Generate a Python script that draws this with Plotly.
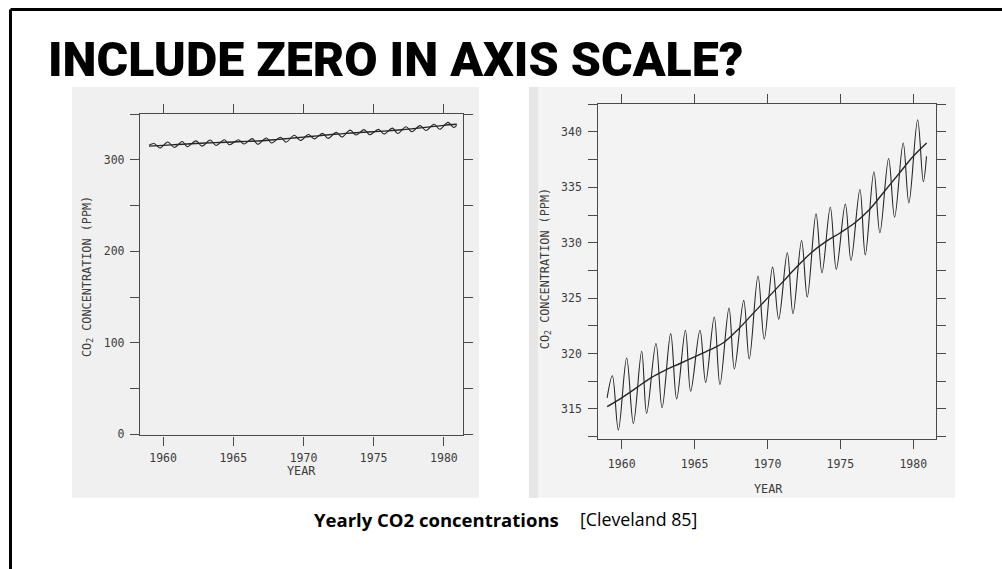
import plotly.graph_objects as go

# ---------------- data ----------------
# seasonal curve: start, then alternating peaks / troughs (decimal year, ppm)
season_year = [1959.00, 1959.36, 1959.77, 1960.34, 1960.80, 1961.37, 1961.71,
               1962.35, 1962.77, 1963.36, 1963.77, 1964.37, 1964.73, 1965.37,
               1965.76, 1966.35, 1966.74, 1967.36, 1967.73, 1968.37, 1968.75,
               1969.35, 1969.78, 1970.35, 1970.77, 1971.36, 1971.75, 1972.34,
               1972.73, 1973.33, 1973.74, 1974.31, 1974.72, 1975.34, 1975.73,
               1976.34, 1976.71, 1977.30, 1977.71, 1978.31, 1978.72, 1979.31,
               1979.70, 1980.30, 1980.69, 1980.91]
season_ppm = [316.0, 318.0, 313.1, 319.6, 313.7, 320.2, 314.6,
              320.9, 315.1, 321.8, 315.9, 322.1, 316.6, 322.1,
              317.4, 323.3, 317.2, 324.1, 318.6, 324.8, 319.5,
              327.0, 321.3, 327.8, 323.1, 329.1, 323.6, 330.2,
              325.1, 332.6, 327.3, 333.2, 327.6, 333.5, 328.4,
              334.8, 328.9, 336.4, 330.9, 337.6, 332.3, 339.0,
              333.6, 341.1, 335.5, 337.8]

# smooth trend line
trend_year = [1959.0, 1960.0, 1961.0, 1962.0, 1963.0, 1964.0, 1965.0, 1966.0,
              1967.0, 1968.0, 1969.0, 1970.0, 1971.0, 1972.0, 1973.0, 1974.0,
              1975.0, 1976.0, 1977.0, 1978.0, 1979.0, 1980.0, 1980.92]
trend_ppm = [315.2, 316.0, 316.9, 317.8, 318.5, 319.1, 319.7, 320.3,
             321.0, 322.2, 323.6, 325.0, 326.4, 327.8, 329.1, 330.1,
             330.9, 331.8, 333.0, 334.6, 336.2, 337.8, 339.0]

year_ticks = [1960, 1965, 1970, 1975, 1980]
left_y_ticks = [0, 100, 200, 300]
right_y_ticks = [315, 320, 325, 330, 335, 340]

W, H = 1002, 569
def fx(x):
    return x / W
def fy(y):
    return 1 - y / H

AX = "#4a4a4a"
TXT = "#3c3c3c"
MONO = "DejaVu Sans Mono"

fig = go.Figure()

for xa, ya in (("x", "y"), ("x2", "y2")):
    fig.add_trace(go.Scatter(x=season_year, y=season_ppm, mode="lines",
                             line=dict(color="#262626", width=1.1, shape="spline", smoothing=1.0),
                             xaxis=xa, yaxis=ya, showlegend=False, hoverinfo="skip"))
    fig.add_trace(go.Scatter(x=trend_year, y=trend_ppm, mode="lines",
                             line=dict(color="#262626", width=1.4, shape="spline"),
                             xaxis=xa, yaxis=ya, showlegend=False, hoverinfo="skip"))

common_axis = dict(showline=True, linecolor=AX, linewidth=1.3, mirror="allticks",
                   ticks="outside", ticklen=9, tickwidth=1.2, tickcolor=AX,
                   showgrid=False, zeroline=False,
                   tickfont=dict(family=MONO, size=11.5, color=TXT))

fig.update_layout(
    width=W, height=H,
    margin=dict(l=0, r=0, t=0, b=0),
    paper_bgcolor="white", plot_bgcolor="rgba(0,0,0,0)",
    xaxis=dict(common_axis, domain=[fx(140), fx(462.7)], range=[1958.357, 1981.34],
               tickvals=year_ticks, anchor="y", ticklabelstandoff=3),
    yaxis=dict(common_axis, domain=[fy(440), fy(115)], range=[-1.1, 350.5],
               tickvals=left_y_ticks, anchor="x", ticklabelstandoff=3,
               minor=dict(dtick=50, tick0=0, ticks="outside", ticklen=9, tickcolor=AX, tickwidth=1.2, showgrid=False)),
    xaxis2=dict(common_axis, domain=[fx(598.3), fx(935.7)], range=[1958.395, 1981.54],
                tickvals=year_ticks, anchor="y2", ticklabelstandoff=5),
    yaxis2=dict(common_axis, domain=[fy(443.3), fy(105)], range=[312.32, 342.53],
                tickvals=right_y_ticks, anchor="x2", ticklabelstandoff=4,
                minor=dict(dtick=2.5, tick0=315, ticks="outside", ticklen=9, tickcolor=AX, tickwidth=1.2, showgrid=False)),
)

shapes = [
    # scanned-page backgrounds
    dict(type="rect", xref="paper", yref="paper", x0=fx(72), x1=fx(479), y0=fy(503), y1=fy(88),
         fillcolor="#f0f0f0", line=dict(width=0), layer="below"),
    dict(type="rect", xref="paper", yref="paper", x0=fx(529), x1=fx(955), y0=fy(503), y1=fy(88),
         fillcolor="#f3f3f3", line=dict(width=0), layer="below"),
    dict(type="rect", xref="paper", yref="paper", x0=fx(529), x1=fx(538), y0=fy(503), y1=fy(88),
         fillcolor="#e6e6e6", line=dict(width=0), layer="below"),
    # slide frame (top and left edges visible)
    dict(type="line", xref="paper", yref="paper", x0=fx(10.5), x1=fx(1010), y0=fy(9.5), y1=fy(9.5),
         line=dict(color="black", width=3)),
    dict(type="line", xref="paper", yref="paper", x0=fx(10.5), x1=fx(10.5), y0=fy(9.5), y1=fy(580),
         line=dict(color="black", width=3)),
]
fig.update_layout(shapes=shapes)

ann = [
    dict(text="INCLUDE ZERO IN AXIS SCALE?", x=fx(46), y=fy(60), xanchor="left", yanchor="middle",
         font=dict(family="Roboto", size=48.3, color="black", weight=900)),
    dict(text="CO<sub>2</sub> CONCENTRATION (PPM)", x=fx(87), y=fy(280), textangle=-90,
         xanchor="center", yanchor="middle",
         font=dict(family=MONO, size=11.8, color=TXT)),
    dict(text="YEAR", x=fx(301), y=fy(476), xanchor="center", yanchor="middle",
         font=dict(family=MONO, size=11.8, color=TXT)),
    dict(text="CO<sub>2</sub> CONCENTRATION (PPM)", x=fx(545), y=fy(272), textangle=-90,
         xanchor="center", yanchor="middle",
         font=dict(family=MONO, size=11.8, color=TXT)),
    dict(text="YEAR", x=fx(768), y=fy(494), xanchor="center", yanchor="middle",
         font=dict(family=MONO, size=11.8, color=TXT)),
    dict(text="<b>Yearly CO2 concentrations</b>", x=fx(312), y=fy(525), xanchor="left", yanchor="middle",
         font=dict(family="Open Sans", size=18.5, color="black")),
    dict(text="[Cleveland 85]", x=fx(578), y=fy(525), xanchor="left", yanchor="middle",
         font=dict(family="Open Sans", size=17.8, color="black")),
]
for a in ann:
    a.setdefault("xref", "paper")
    a.setdefault("yref", "paper")
    a.setdefault("showarrow", False)
fig.update_layout(annotations=ann)

fig.write_html("out.html")
